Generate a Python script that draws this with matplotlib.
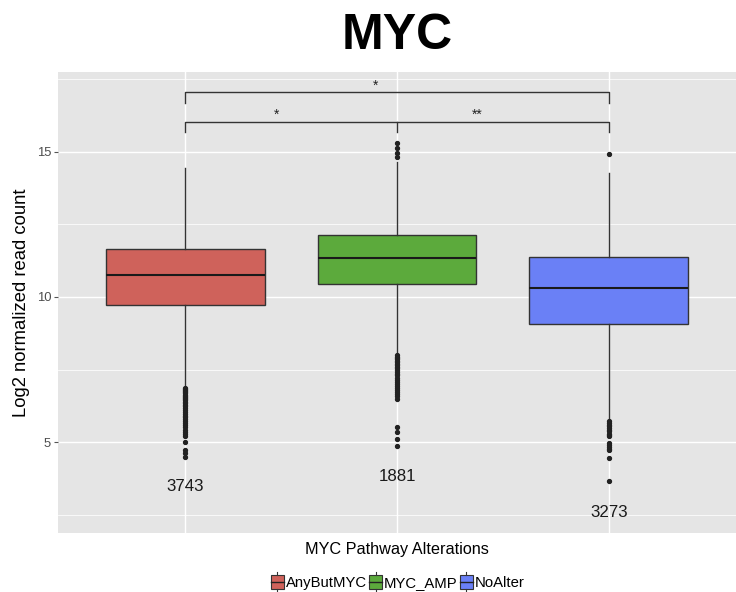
import matplotlib
matplotlib.use("Agg")
import matplotlib.pyplot as plt
from matplotlib.patches import Rectangle, Patch
from matplotlib.lines import Line2D
from matplotlib.legend_handler import HandlerBase

plt.rcParams['font.family'] = ['Liberation Sans', 'DejaVu Sans']

# 数据
groups = ["AnyButMYC", "MYC_AMP", "NoAlter"]
colors = ["#CF625B", "#5CAA3C", "#6A80F6"]
q1 = [9.72, 10.45, 9.07]
med = [10.76, 11.34, 10.32]
q3 = [11.64, 12.13, 11.37]
whislo = [6.95, 8.1, 5.8]
whishi = [14.44, 14.66, 14.28]
fliers_any = [6.88, 6.84, 6.80, 6.76, 6.72, 6.68, 6.64, 6.60, 6.56, 6.52, 6.48,
              6.44, 6.40, 6.35, 6.30, 6.24, 6.17, 6.12, 6.05, 5.98, 5.92, 5.86,
              5.80, 5.74, 5.66, 5.58, 5.52, 5.44, 5.36, 5.28, 5.22, 5.0, 4.75,
              4.62, 4.48]
fliers_amp = [15.31, 15.14, 14.97, 14.80,
              8.0, 7.95, 7.9, 7.85, 7.8, 7.75, 7.7, 7.65, 7.6, 7.55, 7.5, 7.42,
              7.35, 7.3, 7.22, 7.15, 7.08, 7.02, 6.95, 6.88, 6.8, 6.72, 6.65,
              6.58, 6.5, 5.52, 5.36, 5.1, 4.86]
fliers_no = [14.93, 5.72, 5.66, 5.6, 5.55, 5.5, 5.44, 5.38, 5.3, 5.24, 5.2,
             4.96, 4.9, 4.84, 4.78, 4.72, 4.45, 3.66]
counts = [3743, 1881, 3273]
count_y = [3.48, 3.81, 2.6]

# 显著性标记
brackets = [(1, 3, 17.04, 0.38), (1, 3, 16.03, 0.34)]
stars = [("*", 1.9, 17.27), ("*", 1.43, 16.28), ("**", 2.38, 16.28)]

fig = plt.figure(figsize=(7.36, 5.92), dpi=100)
ax = fig.add_axes([58 / 736, 1 - 533 / 592, 678 / 736, 461 / 592])
ax.set_facecolor("#E5E5E5")

stats = []
for i, fl in enumerate([fliers_any, fliers_amp, fliers_no]):
    stats.append(dict(label=groups[i], q1=q1[i], med=med[i], q3=q3[i],
                      whislo=whislo[i], whishi=whishi[i], fliers=fl))

bp = ax.bxp(stats, positions=[1, 2, 3], widths=0.75, patch_artist=True,
            showcaps=False, zorder=3,
            boxprops=dict(edgecolor="#333333", linewidth=1.0),
            medianprops=dict(color="#1a1a1a", linewidth=1.5),
            whiskerprops=dict(color="#333333", linewidth=1.0),
            flierprops=dict(marker="o", markersize=2.8, markerfacecolor="#222222",
                            markeredgecolor="#222222", linestyle="none"))
for patch, c in zip(bp["boxes"], colors):
    patch.set_facecolor(c)

for i in range(3):
    ax.text(i + 1, count_y[i], str(counts[i]), ha="center", va="center",
            fontsize=12.2, color="#1a1a1a")

for x0, x1, yb, tick in brackets:
    ax.plot([x0, x0, x1, x1], [yb - tick, yb, yb, yb - tick], color="#333333",
            lw=1.0, zorder=4)
ax.plot([2, 2], [16.03, 16.03 - 0.34], color="#333333", lw=1.0, zorder=4)
for s, x, y in stars:
    ax.text(x, y, s, ha="center", va="center", fontsize=10, color="#222222")

ax.set_xlim(0.4, 3.6)
ax.set_ylim(1.88, 17.74)
ax.set_yticks([5, 10, 15])
ax.set_yticks([2.5, 7.5, 12.5, 17.5], minor=True)
ax.set_xticks([1, 2, 3])
ax.set_xticklabels(["", "", ""])
ax.tick_params(axis="x", length=0)
ax.tick_params(axis="y", which="major", length=3, color="#555555",
               labelsize=9.4, labelcolor="#4D4D4D", pad=2)
ax.tick_params(axis="y", which="minor", length=0)
ax.grid(True, which="major", color="white", linewidth=1.0, zorder=0)
ax.grid(True, which="minor", axis="y", color="white", linewidth=0.55, zorder=0)
ax.set_axisbelow(True)
for sp in ax.spines.values():
    sp.set_visible(False)

ax.set_ylabel("Log2 normalized read count", fontsize=13.3, labelpad=5)
ax.set_xlabel("MYC Pathway Alterations", fontsize=11.7, labelpad=3)

fig.text(397 / 736, 1 - 36 / 592, "MYC", ha="center", va="center",
         fontsize=36, fontweight="bold")


class BoxKey(HandlerBase):
    def create_artists(self, legend, orig_handle, xdescent, ydescent, width,
                       height, fontsize, trans):
        x0, y0 = -xdescent, -ydescent
        cx = x0 + width / 2
        rect = Rectangle((x0, y0 + height * 0.15), width, height * 0.7,
                         facecolor=orig_handle.get_facecolor(),
                         edgecolor="#333333", lw=0.8, transform=trans)
        m = Line2D([x0, x0 + width], [y0 + height / 2] * 2, color="#222222",
                   lw=1.0, transform=trans)
        w1 = Line2D([cx, cx], [y0, y0 + height * 0.15], color="#333333",
                    lw=0.8, transform=trans)
        w2 = Line2D([cx, cx], [y0 + height * 0.85, y0 + height], color="#333333",
                    lw=0.8, transform=trans)
        return [rect, m, w1, w2]


handles = [Patch(facecolor=c) for c in colors]
fig.legend(handles, groups, handler_map={Patch: BoxKey()}, loc="center",
           bbox_to_anchor=(398 / 736, 1 - 582 / 592), ncol=3, frameon=False,
           fontsize=10.7, handlelength=0.85, handleheight=1.6, handletextpad=0.15,
           columnspacing=0.15, borderaxespad=0)

fig.savefig("out.png", dpi=100)
